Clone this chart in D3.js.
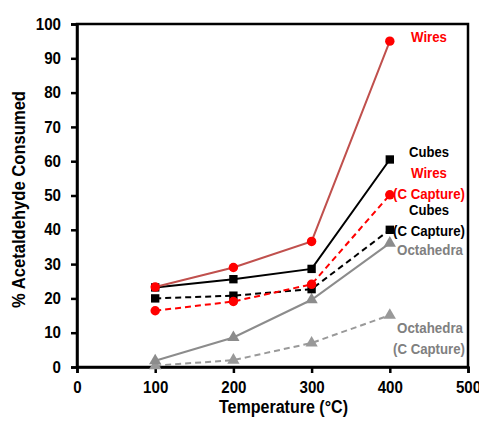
<!DOCTYPE html>
<html>
<head>
<meta charset="utf-8">
<script src="https://cdn.jsdelivr.net/npm/d3@7"></script>
<style>
  body { margin: 0; background: #fff; }
  text { font-family: Arial, "Liberation Sans", sans-serif; font-weight: bold; }
</style>
</head>
<body>
<div id="chart"></div>
<script>
// data
const temps = [100, 200, 300, 400];
const wires = [23.3, 29, 36.6, 95];
const cubes = [23.2, 25.6, 28.6, 60.5];
const wiresCC = [16.4, 19.1, 24.1, 50.2];
const cubesCC = [20, 20.8, 22.7, 40];
const octa = [1.8, 8.6, 19.6, 36.1];
const octaCC = [0.4, 2.0, 7.0, 15.1];
const xTicks = [0, 100, 200, 300, 400, 500];
const yTicks = [0, 10, 20, 30, 40, 50, 60, 70, 80, 90, 100];

const series = [
  { name: 'Octahedra (C Capture)', values: octaCC, line: '#999999', fill: '#999999', dash: '6,4', marker: 'triangle' },
  { name: 'Octahedra', values: octa, line: '#8c8c8c', fill: '#8c8c8c', dash: null, marker: 'triangle' },
  { name: 'Cubes (C Capture)', values: cubesCC, line: '#000', fill: '#000', dash: '6,4', marker: 'square' },
  { name: 'Wires (C Capture)', values: wiresCC, line: '#ff0000', fill: '#ff0000', dash: '6,4', marker: 'circle' },
  { name: 'Cubes', values: cubes, line: '#000', fill: '#000', dash: null, marker: 'square' },
  { name: 'Wires', values: wires, line: '#c0504d', fill: '#ff0000', dash: null, marker: 'circle' }
];

// end labels
const labelWidth = { 'Wires': 36, 'Cubes': 40, '(C Capture)': 72, 'Octahedra': 66 };
const labels = [
  { lines: ['Wires'], color: '#ff0000', x: 411, y: 37 },
  { lines: ['Cubes'], color: '#000', x: 409, y: 152 },
  { lines: ['Wires', '(C Capture)'], color: '#ff0000', x: [411, 393], y: 173 },
  { lines: ['Cubes', '(C Capture)'], color: '#000', x: [409, 393], y: 210 },
  { lines: ['Octahedra'], color: '#808080', x: 397, y: 250 },
  { lines: ['Octahedra', '(C Capture)'], color: '#808080', x: [397, 393], y: 328 }
];

const width = 479, height = 427;
const margin = { top: 24, right: 11, bottom: 60, left: 77 };

const svg = d3.select('#chart').append('svg')
    .attr('width', width).attr('height', height);

const x = d3.scaleLinear().domain([0, 500]).range([margin.left, width - margin.right]);
const y = d3.scaleLinear().domain([0, 100]).range([height - margin.bottom, margin.top]);

// frame
svg.append('rect')
    .attr('x', x(0)).attr('y', y(100))
    .attr('width', x(500) - x(0)).attr('height', y(0) - y(100))
    .attr('fill', 'none').attr('stroke', '#000').attr('stroke-width', 2.5);

const xAxis = svg.append('g')
    .attr('transform', `translate(0,${y(0)})`)
    .call(d3.axisBottom(x).tickValues(xTicks).tickSize(6).tickPadding(9).tickFormat(d3.format('d')));
const yAxis = svg.append('g')
    .attr('transform', `translate(${x(0)},0)`)
    .call(d3.axisLeft(y).tickValues(yTicks).tickSize(6).tickPadding(10).tickFormat(d3.format('d')));

[xAxis, yAxis].forEach(g => {
  g.select('.domain').attr('stroke-width', 2.5);
  g.selectAll('.tick line').attr('stroke-width', 2.5);
  g.selectAll('.tick text').attr('font-size', 16).attr('font-weight', 'bold')
    .attr('font-family', 'Arial, "Liberation Sans", sans-serif').attr('fill', '#000')
    .attr('textLength', d => String(d).length * 8.4).attr('lengthAdjust', 'spacingAndGlyphs');
});

// axis titles
svg.append('text')
    .attr('x', (x(0) + x(500)) / 2 + 11).attr('y', 413)
    .attr('text-anchor', 'middle').attr('font-size', 18)
    .attr('textLength', 129).attr('lengthAdjust', 'spacingAndGlyphs')
    .text('Temperature (°C)');

svg.append('text')
    .attr('transform', `translate(25,${(y(0) + y(100)) / 2 + 4}) rotate(-90)`)
    .attr('text-anchor', 'middle').attr('font-size', 18)
    .attr('textLength', 217).attr('lengthAdjust', 'spacingAndGlyphs')
    .text('% Acetaldehyde Consumed');

const line = d3.line().x((d, i) => x(temps[i])).y(d => y(d));

series.forEach(s => {
  const g = svg.append('g');
  g.append('path')
      .attr('d', line(s.values))
      .attr('fill', 'none')
      .attr('stroke', s.line)
      .attr('stroke-width', 2)
      .attr('stroke-dasharray', s.dash);

  const sym = s.marker === 'circle' ? d3.symbolCircle
            : s.marker === 'square' ? d3.symbolSquare : d3.symbolTriangle;
  const size = s.marker === 'circle' ? 70 : s.marker === 'square' ? 70 : 65;
  g.selectAll('path.m').data(s.values).join('path')
      .attr('class', 'm')
      .attr('transform', (d, i) => `translate(${x(temps[i])},${y(d)})`)
      .attr('d', d3.symbol().type(sym).size(size))
      .attr('fill', s.fill);
});

labels.forEach(l => {
  l.lines.forEach((t, i) => {
    svg.append('text')
        .attr('x', Array.isArray(l.x) ? l.x[i] : l.x)
        .attr('y', l.y + i * 20.5)
        .attr('dy', '0.35em')
        .attr('font-size', 15)
        .attr('textLength', labelWidth[t])
        .attr('lengthAdjust', 'spacingAndGlyphs')
        .attr('fill', l.color)
        .text(t);
  });
});
</script>
</body>
</html>
